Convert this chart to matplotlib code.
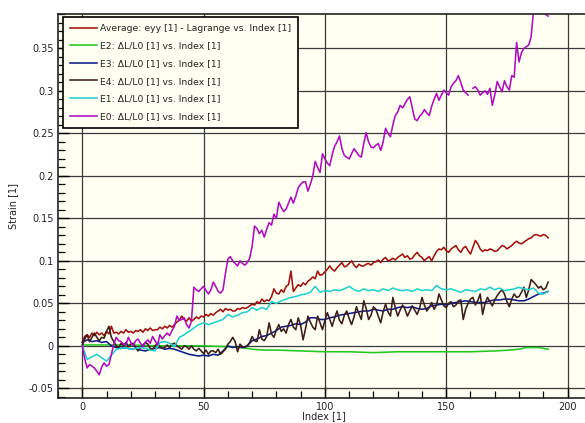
import numpy as np
import matplotlib
matplotlib.use("Agg")
import matplotlib.pyplot as plt
from matplotlib.ticker import MultipleLocator, FixedLocator

# ---------------- data ----------------
index_full = list(range(0, 193))
index_half = list(range(0, 193, 2))

avg_eyy = [
    0.004, 0.011, 0.013, 0.010, 0.015, 0.012, 0.016, 0.013, 0.015, 0.012,
    0.017, 0.014, 0.023, 0.015, 0.016, 0.014, 0.017, 0.015, 0.019, 0.016,
    0.017, 0.015, 0.018, 0.017, 0.019, 0.016, 0.020, 0.018, 0.021, 0.018,
    0.019, 0.019, 0.022, 0.020, 0.023, 0.021, 0.024, 0.022, 0.025, 0.028,
    0.030, 0.035, 0.031, 0.029, 0.033, 0.029, 0.031, 0.034, 0.032, 0.035,
    0.034, 0.037, 0.035, 0.038, 0.036, 0.039, 0.041, 0.043, 0.040, 0.044,
    0.042, 0.043, 0.041, 0.041, 0.044, 0.043, 0.045, 0.044, 0.045, 0.047,
    0.049, 0.048, 0.052, 0.050, 0.055, 0.052, 0.054, 0.053, 0.058, 0.067,
    0.062, 0.061, 0.066, 0.063, 0.070, 0.072, 0.088, 0.064, 0.068, 0.072,
    0.070, 0.074, 0.072, 0.076, 0.078, 0.081, 0.079, 0.088, 0.083, 0.084,
    0.087, 0.090, 0.094, 0.090, 0.088, 0.092, 0.095, 0.098, 0.093, 0.094,
    0.097, 0.100, 0.095, 0.092, 0.096, 0.094, 0.094, 0.096, 0.097, 0.095,
    0.098, 0.099, 0.101, 0.098, 0.102, 0.104, 0.100, 0.101, 0.103, 0.101,
    0.104, 0.106, 0.108, 0.104, 0.106, 0.102, 0.103, 0.107, 0.110, 0.106,
    0.104, 0.100, 0.103, 0.105, 0.100, 0.106, 0.111, 0.114, 0.113, 0.116,
    0.112, 0.110, 0.114, 0.116, 0.118, 0.113, 0.110, 0.115, 0.117, 0.112,
    0.108, 0.116, 0.124, 0.120, 0.114, 0.111, 0.113, 0.112, 0.114, 0.113,
    0.111, 0.112, 0.115, 0.118, 0.117, 0.114, 0.116, 0.118, 0.121, 0.123,
    0.121, 0.120, 0.122, 0.124, 0.126, 0.127, 0.130, 0.131, 0.130, 0.129,
    0.131, 0.130, 0.127,
]

e2_index = [0, 10, 20, 30, 40, 50, 60, 65, 68, 70, 75, 80, 90, 100, 110,
            120, 130, 140, 150, 160, 170, 176, 180, 183, 186, 188, 190, 192]
e2_strain = [0.001, 0.001, 0.001, 0.000, 0.000, 0.000, -0.001, -0.002,
             -0.003, -0.004, -0.005, -0.005, -0.006, -0.007, -0.007, -0.008,
             -0.007, -0.007, -0.007, -0.007, -0.006, -0.005, -0.004, -0.002,
             -0.002, -0.002, -0.003, -0.004]

e3_strain = [
    0.004, 0.007, 0.005, 0.006, 0.004, 0.005, 0.000, -0.002, -0.003, -0.002,
    -0.004, -0.003, -0.005, -0.006, -0.004, -0.003, -0.002, -0.004, -0.003, -0.004,
    -0.006, -0.008, -0.010, -0.011, -0.012, -0.011, -0.012, -0.010, -0.011, -0.006,
    0.000, -0.002, -0.001, -0.002, 0.000, 0.006, 0.008, 0.011, 0.012, 0.015,
    0.018, 0.022, 0.023, 0.024, 0.026, 0.025, 0.028, 0.033, 0.033, 0.031,
    0.031, 0.033, 0.034, 0.036, 0.037, 0.038, 0.039, 0.040, 0.041, 0.041,
    0.043, 0.042, 0.041, 0.043, 0.043, 0.045, 0.046, 0.045, 0.046, 0.044,
    0.043, 0.044, 0.047, 0.048, 0.049, 0.048, 0.050, 0.051, 0.052, 0.053,
    0.052, 0.051, 0.051, 0.051, 0.053, 0.054, 0.054, 0.055, 0.055, 0.054,
    0.053, 0.053, 0.055, 0.058, 0.061, 0.062, 0.064,
]

e4_strain = [
    0.000, 0.008, 0.013, 0.005, 0.010, 0.015, 0.010, 0.006, 0.010, 0.009,
    0.017, 0.023, 0.010, 0.005, 0.000, -0.002, 0.003, 0.000, 0.004, -0.001,
    0.002, 0.003, -0.002, -0.006, -0.002, 0.001, 0.004, 0.002, -0.003, -0.004,
    0.000, 0.003, -0.001, -0.003, -0.002, 0.001, -0.002, 0.002, 0.003, 0.000,
    -0.002, -0.004, 0.000, -0.001, -0.004, 0.000, -0.004, -0.006, -0.003, -0.006,
    -0.009, -0.005, -0.010, -0.006, -0.006, -0.008, -0.004, -0.010, -0.007, -0.004,
    0.002, 0.005, 0.010, 0.005, -0.007, 0.002, -0.001, -0.002, 0.000, 0.004,
    0.011, 0.006, 0.005, 0.019, 0.008, 0.006, 0.011, 0.027, 0.014, 0.010,
    0.019, 0.025, 0.017, 0.020, 0.015, 0.025, 0.031, 0.022, 0.019, 0.033,
    0.024, 0.007, 0.020, 0.035, 0.028, 0.022, 0.019, 0.035, 0.027, 0.019,
    0.030, 0.039, 0.031, 0.023, 0.033, 0.041, 0.030, 0.026, 0.036, 0.041,
    0.032, 0.025, 0.034, 0.046, 0.038, 0.031, 0.053, 0.044, 0.031, 0.036,
    0.046, 0.043, 0.035, 0.027, 0.040, 0.049, 0.040, 0.035, 0.057, 0.045,
    0.035, 0.042, 0.048, 0.043, 0.035, 0.041, 0.047, 0.042, 0.037, 0.044,
    0.057, 0.048, 0.041, 0.045, 0.051, 0.043, 0.048, 0.061, 0.054, 0.047,
    0.045, 0.050, 0.052, 0.046, 0.048, 0.053, 0.054, 0.031, 0.043, 0.050,
    0.055, 0.057, 0.048, 0.053, 0.061, 0.037, 0.050, 0.057, 0.052, 0.047,
    0.054, 0.059, 0.063, 0.066, 0.061, 0.052, 0.046, 0.055, 0.061, 0.057,
    0.058, 0.063, 0.069, 0.057, 0.066, 0.078, 0.075, 0.072, 0.068, 0.070,
    0.066, 0.068, 0.075,
]

e1_strain = [
    0.000, -0.016, -0.013, -0.010, -0.014, -0.018, -0.011, -0.004, -0.003, -0.002,
    -0.004, -0.003, -0.002, -0.003, -0.005, -0.006, 0.004, 0.005, 0.003, -0.001,
    0.010, 0.013, 0.017, 0.021, 0.025, 0.027, 0.025, 0.027, 0.029, 0.031,
    0.037, 0.034, 0.036, 0.039, 0.040, 0.045, 0.042, 0.045, 0.043, 0.052,
    0.050, 0.053, 0.055, 0.057, 0.058, 0.060, 0.061, 0.063, 0.070, 0.063,
    0.065, 0.064, 0.066, 0.065, 0.067, 0.070, 0.066, 0.064, 0.067, 0.065,
    0.066, 0.064, 0.067, 0.065, 0.068, 0.066, 0.065, 0.066, 0.064, 0.067,
    0.065, 0.066, 0.065, 0.071, 0.067, 0.066, 0.067, 0.065, 0.063, 0.066,
    0.065, 0.064, 0.067, 0.066, 0.069, 0.066, 0.068, 0.065, 0.066, 0.067,
    0.069, 0.067, 0.066, 0.068, 0.062, 0.061, 0.064,
]

e0_strain = [
    0.000, -0.015, -0.026, -0.022, -0.024, -0.026, -0.030, -0.034, -0.025, -0.020,
    -0.024, -0.022, -0.010, 0.002, 0.010, 0.006, 0.005, 0.002, 0.001, 0.010,
    0.004, 0.000, 0.006, 0.008, 0.003, -0.001, 0.004, 0.007, 0.003, 0.011,
    0.006, 0.001, 0.013, 0.008, 0.012, 0.015, 0.012, 0.018, 0.023, 0.035,
    0.030, 0.031, 0.033, 0.025, 0.021, 0.029, 0.069, 0.066, 0.064, 0.067,
    0.070, 0.065, 0.061, 0.066, 0.075, 0.070, 0.064, 0.062, 0.066, 0.085,
    0.102, 0.105, 0.100, 0.097, 0.094, 0.100, 0.097, 0.095, 0.098, 0.103,
    0.117, 0.141, 0.138, 0.132, 0.136, 0.128, 0.137, 0.145, 0.142, 0.155,
    0.150, 0.169, 0.163, 0.158, 0.161, 0.168, 0.175, 0.168, 0.176, 0.186,
    0.190, 0.193, 0.193, 0.182, 0.190, 0.200, 0.217, 0.210, 0.204, 0.226,
    0.220, 0.215, 0.212, 0.225, 0.235, 0.240, 0.247, 0.232, 0.224, 0.222,
    0.220, 0.226, 0.232, 0.228, 0.224, 0.222, 0.238, 0.251, 0.240, 0.234,
    0.233, 0.236, 0.238, 0.230, 0.240, 0.256, 0.250, 0.246, 0.260, 0.271,
    0.275, 0.283, 0.280, 0.285, 0.290, 0.293, 0.280, 0.267, 0.265, 0.270,
    0.273, 0.278, 0.274, 0.271, 0.282, 0.290, 0.297, 0.289, 0.295, 0.301,
    0.298, 0.295, 0.305, 0.309, 0.312, 0.318, 0.310, 0.301, 0.298, 0.295,
    np.nan, 0.303, 0.305, 0.301, 0.295, 0.298, 0.300, 0.296, 0.303, 0.283,
    0.295, 0.311, 0.305, 0.299, 0.312, 0.305, 0.301, 0.318, 0.316, 0.357,
    0.334, 0.345, 0.350, 0.352, 0.354, 0.364, 0.395, 0.420, 0.430, 0.420,
    0.400, 0.390, 0.388,
]

labels = [
    "Average: eyy [1] - Lagrange vs. Index [1]",
    "E2: ΔL/L0 [1] vs. Index [1]",
    "E3: ΔL/L0 [1] vs. Index [1]",
    "E4: ΔL/L0 [1] vs. Index [1]",
    "E1: ΔL/L0 [1] vs. Index [1]",
    "E0: ΔL/L0 [1] vs. Index [1]",
]
colors = ["#a40f0f", "#22c822", "#0c1a8c", "#3e1c18", "#22d0d0", "#b00cc0"]

y_ticks = [-0.05, 0, 0.05, 0.1, 0.15, 0.2, 0.25, 0.3, 0.35]
y_tick_labels = ["-0.05", "0", "0.05", "0.1", "0.15", "0.2", "0.25", "0.3", "0.35"]
x_ticks = [0, 50, 100, 150, 200]

# ---------------- figure ----------------
W, H = 585, 423
fig = plt.figure(figsize=(W / 100, H / 100), dpi=100)
fig.patch.set_facecolor("white")
ax = fig.add_axes([58 / W, 1 - 398 / H, 1 - 58 / W + 0.01, (398 - 14) / H])
ax.set_facecolor("#fffff2")

series = [
    (index_full, avg_eyy),
    (e2_index, e2_strain),
    (index_half, e3_strain),
    (index_full, e4_strain),
    (index_half, e1_strain),
    (index_full, e0_strain),
]
for (xs, ys), lab, col in zip(series, labels, colors):
    ax.plot(xs, ys, color=col, lw=1.15, label=lab)

ax.set_xlim(-10, 209.6)
ax.set_ylim(-0.0614, 0.3905)

ax.xaxis.set_major_locator(FixedLocator(x_ticks))
ax.xaxis.set_minor_locator(MultipleLocator(10))
ax.yaxis.set_major_locator(FixedLocator(y_ticks))
ax.set_yticklabels(y_tick_labels)
ax.yaxis.set_minor_locator(MultipleLocator(0.01))

ax.tick_params(axis="both", which="major", direction="in", length=8, width=1.0,
               color="black", labelsize=7, labelcolor="#222222")
ax.tick_params(axis="both", which="minor", direction="in", length=5, width=0.9,
               color="black")
ax.tick_params(axis="x", which="major", pad=3)
ax.tick_params(axis="y", which="major", pad=3)

ax.grid(True, which="major", color="#3a3a3a", lw=0.9)
ax.set_axisbelow(True)

for side in ["left", "bottom", "top"]:
    ax.spines[side].set_color("#222222")
    ax.spines[side].set_linewidth(1.2)
ax.spines["right"].set_visible(False)

ax.set_xlabel("Index [1]", fontsize=7, color="#222222", labelpad=-0.5)
ax.set_ylabel("Strain [1]", fontsize=7, color="#222222", labelpad=8)

leg = ax.legend(loc="upper left", bbox_to_anchor=(63 / W, 1 - 17 / H),
                bbox_transform=fig.transFigure, fontsize=6.7, frameon=True,
                fancybox=False, borderpad=0.75, labelspacing=0.92,
                handlelength=2.9, handletextpad=0.35, borderaxespad=0)
leg.get_frame().set_edgecolor("black")
leg.get_frame().set_linewidth(1.2)
leg.get_frame().set_facecolor("#fffff2")
leg.get_frame().set_alpha(1)
for t in leg.get_texts():
    t.set_color("#222222")

fig.savefig("out.png", dpi=100, facecolor="white")
